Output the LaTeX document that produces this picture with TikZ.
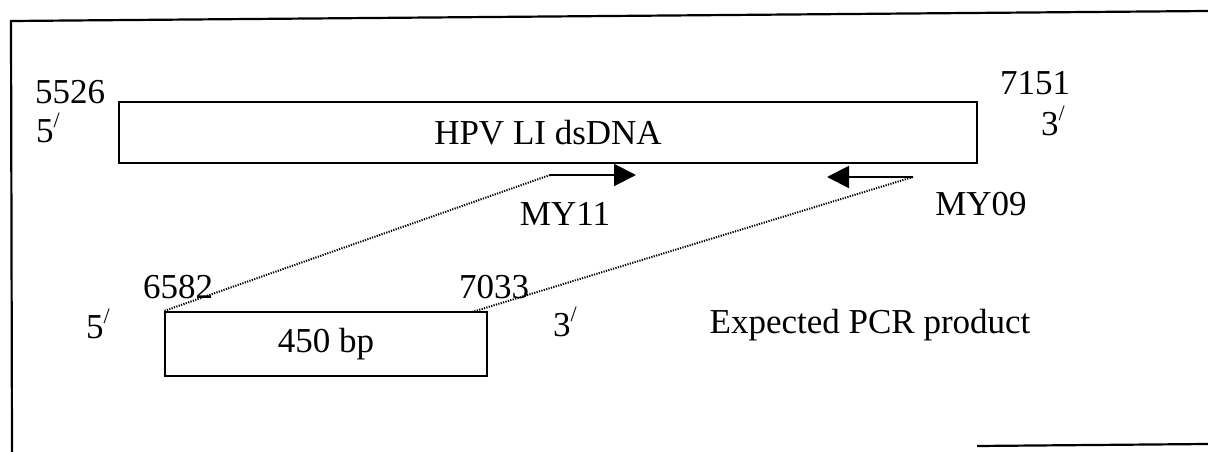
\documentclass[tikz,border=0pt]{standalone}
\usepackage{fontspec}
\setmainfont{Liberation Serif}
\usetikzlibrary{arrows.meta}
\newcommand{\pr}{\raisebox{0.42em}{\fontsize{22}{24}\selectfont/}}
\begin{document}
\begin{tikzpicture}[x=1pt,y=-1pt,
  lbl/.style={inner sep=0pt,anchor=base,font=\fontsize{35}{40}\selectfont},
  dnabox/.style={draw,line width=2pt,inner sep=0pt,font=\fontsize{35}{40}\selectfont},
  primer/.style={line width=2pt,-{Triangle[length=22pt,width=22pt]}},
  guide/.style={line width=2pt,dash pattern=on 1.2pt off 1.3pt}]
\useasboundingbox (0,0) rectangle (1208,452);
% frame
\coordinate (fbl) at (12,452);
\coordinate (ftl) at (11,21);
\coordinate (ftr) at (1208,11);
\coordinate (fbr1) at (977,446);
\coordinate (fbr2) at (1208,444);
\draw[line width=2.2pt] (fbl) -- (ftl) -- (ftr);
\draw[line width=2.2pt] (fbr1) -- (fbr2);
% boxes
\node[dnabox,minimum width=858pt,minimum height=61pt] (big) at (548,132.5) {HPV LI dsDNA};
\node[dnabox,minimum width=322pt,minimum height=64pt] (small) at (326,344) {450 bp};
% labels
\node[lbl] (n5526) at (70,103) {5526};
\node[lbl] (p5a) at (48,142) {5\pr};
\node[lbl] (n7151) at (1035,95) {7151};
\node[lbl] (p3a) at (1053,135) {3\pr};
\node[lbl] (my11) at (565,225) {MY11};
\node[lbl] (my09) at (981,215) {MY09};
\node[lbl] (n6582) at (178,298) {6582};
\node[lbl] (n7033) at (494,298) {7033};
\node[lbl] (p5b) at (98,338) {5\pr};
\node[lbl] (p3b) at (565,336) {3\pr};
\node[lbl] (exp) at (870,333) {Expected PCR product};
% primers
\coordinate (f1) at (550,175);
\coordinate (f2) at (636,175);
\coordinate (r1) at (913,177);
\coordinate (r2) at (827,177);
\draw[primer] (f1) -- (f2);
\draw[primer] (r1) -- (r2);
% guide lines
\coordinate (s2) at (472,312);
\draw[guide] (f1) -- (small.north west);
\draw[guide] (r1) -- (s2);
\end{tikzpicture}
\end{document}
